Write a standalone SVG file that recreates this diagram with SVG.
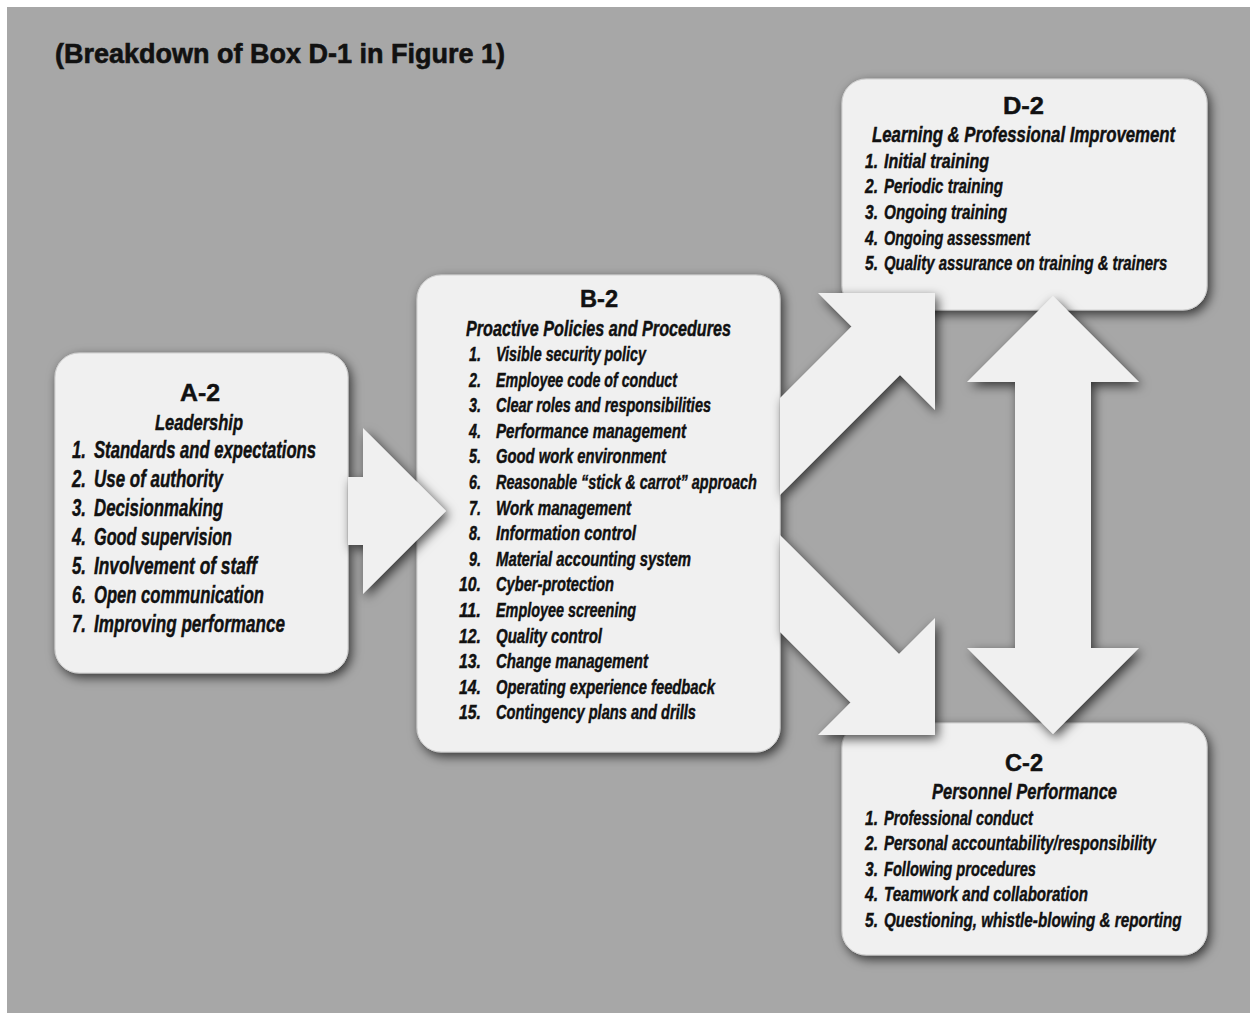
<svg xmlns="http://www.w3.org/2000/svg" width="1250" height="1013" viewBox="0 0 1250 1013">
<defs>
<filter id="sh" x="-20%" y="-20%" width="140%" height="140%">
<feGaussianBlur in="SourceAlpha" stdDeviation="5.5"/>
<feOffset dx="3" dy="4" result="b"/>
<feFlood flood-color="#000" flood-opacity="0.68"/>
<feComposite in2="b" operator="in"/>
<feMerge><feMergeNode/><feMergeNode in="SourceGraphic"/></feMerge>
</filter>
<style>
.box{fill:#f0f0f0;stroke:#d0d0d0;stroke-width:1;filter:url(#sh)}
.arr{fill:#f0f0f0;filter:url(#sh)}
text{font-family:"Liberation Sans",Arial,sans-serif;fill:#111;font-weight:bold;stroke:#111;stroke-width:0.45}
.t{font-size:27px;stroke-width:0.6}
.h{font-size:23px}
.s{font-size:21.5px;font-style:italic}
.ia{font-size:23px;font-style:italic}
.ib{font-size:19.5px;font-style:italic}
.id{font-size:20.5px;font-style:italic}
</style>
</defs>
<rect x="0" y="0" width="1250" height="1013" fill="#ffffff"/>
<rect x="7" y="7" width="1243" height="1006" fill="#a7a7a7"/>
<text class="t" x="55" y="63" textLength="450" lengthAdjust="spacingAndGlyphs">(Breakdown of Box D-1 in Figure 1)</text>

<g id="node-A2">
<rect class="box" x="55" y="353" width="293" height="320" rx="24"/>
<text class="h" x="180" y="401" textLength="40" lengthAdjust="spacingAndGlyphs">A-2</text>
<text class="s" x="155" y="430" textLength="88" lengthAdjust="spacingAndGlyphs">Leadership</text>
<text class="ia" x="72" y="458" textLength="14" lengthAdjust="spacingAndGlyphs">1.</text><text class="ia" x="94" y="458" textLength="222" lengthAdjust="spacingAndGlyphs">Standards and expectations</text>
<text class="ia" x="72" y="487" textLength="14" lengthAdjust="spacingAndGlyphs">2.</text><text class="ia" x="94" y="487" textLength="129" lengthAdjust="spacingAndGlyphs">Use of authority</text>
<text class="ia" x="72" y="516" textLength="14" lengthAdjust="spacingAndGlyphs">3.</text><text class="ia" x="94" y="516" textLength="129" lengthAdjust="spacingAndGlyphs">Decisionmaking</text>
<text class="ia" x="72" y="545" textLength="14" lengthAdjust="spacingAndGlyphs">4.</text><text class="ia" x="94" y="545" textLength="138" lengthAdjust="spacingAndGlyphs">Good supervision</text>
<text class="ia" x="72" y="574" textLength="14" lengthAdjust="spacingAndGlyphs">5.</text><text class="ia" x="94" y="574" textLength="163" lengthAdjust="spacingAndGlyphs">Involvement of staff</text>
<text class="ia" x="72" y="603" textLength="14" lengthAdjust="spacingAndGlyphs">6.</text><text class="ia" x="94" y="603" textLength="170" lengthAdjust="spacingAndGlyphs">Open communication</text>
<text class="ia" x="72" y="632" textLength="14" lengthAdjust="spacingAndGlyphs">7.</text><text class="ia" x="94" y="632" textLength="191" lengthAdjust="spacingAndGlyphs">Improving performance</text>
</g>

<g id="node-B2">
<rect class="box" x="417" y="275" width="363" height="477" rx="24"/>
<text class="h" x="580" y="307" textLength="38" lengthAdjust="spacingAndGlyphs">B-2</text>
<text class="s" x="466" y="336" textLength="265" lengthAdjust="spacingAndGlyphs">Proactive Policies and Procedures</text>
<g text-anchor="end">
<text class="ib" x="481" y="361" textLength="12" lengthAdjust="spacingAndGlyphs">1.</text>
<text class="ib" x="481" y="386.6" textLength="12" lengthAdjust="spacingAndGlyphs">2.</text>
<text class="ib" x="481" y="412.2" textLength="12" lengthAdjust="spacingAndGlyphs">3.</text>
<text class="ib" x="481" y="437.8" textLength="12" lengthAdjust="spacingAndGlyphs">4.</text>
<text class="ib" x="481" y="463.4" textLength="12" lengthAdjust="spacingAndGlyphs">5.</text>
<text class="ib" x="481" y="489" textLength="12" lengthAdjust="spacingAndGlyphs">6.</text>
<text class="ib" x="481" y="514.6" textLength="12" lengthAdjust="spacingAndGlyphs">7.</text>
<text class="ib" x="481" y="540.2" textLength="12" lengthAdjust="spacingAndGlyphs">8.</text>
<text class="ib" x="481" y="565.8" textLength="12" lengthAdjust="spacingAndGlyphs">9.</text>
<text class="ib" x="481" y="591.4" textLength="22" lengthAdjust="spacingAndGlyphs">10.</text>
<text class="ib" x="481" y="617" textLength="22" lengthAdjust="spacingAndGlyphs">11.</text>
<text class="ib" x="481" y="642.6" textLength="22" lengthAdjust="spacingAndGlyphs">12.</text>
<text class="ib" x="481" y="668.2" textLength="22" lengthAdjust="spacingAndGlyphs">13.</text>
<text class="ib" x="481" y="693.8" textLength="22" lengthAdjust="spacingAndGlyphs">14.</text>
<text class="ib" x="481" y="719.4" textLength="22" lengthAdjust="spacingAndGlyphs">15.</text>
</g>
<text class="ib" x="496" y="361" textLength="150" lengthAdjust="spacingAndGlyphs">Visible security policy</text>
<text class="ib" x="496" y="386.6" textLength="181" lengthAdjust="spacingAndGlyphs">Employee code of conduct</text>
<text class="ib" x="496" y="412.2" textLength="215" lengthAdjust="spacingAndGlyphs">Clear roles and responsibilities</text>
<text class="ib" x="496" y="437.8" textLength="190" lengthAdjust="spacingAndGlyphs">Performance management</text>
<text class="ib" x="496" y="463.4" textLength="170" lengthAdjust="spacingAndGlyphs">Good work environment</text>
<text class="ib" transform="translate(496,489) scale(0.8,1)" x="0" y="0" textLength="326" lengthAdjust="spacingAndGlyphs">Reasonable “stick &amp; carrot” approach</text>
<text class="ib" x="496" y="514.6" textLength="135" lengthAdjust="spacingAndGlyphs">Work management</text>
<text class="ib" x="496" y="540.2" textLength="140" lengthAdjust="spacingAndGlyphs">Information control</text>
<text class="ib" x="496" y="565.8" textLength="195" lengthAdjust="spacingAndGlyphs">Material accounting system</text>
<text class="ib" x="496" y="591.4" textLength="118" lengthAdjust="spacingAndGlyphs">Cyber-protection</text>
<text class="ib" x="496" y="617" textLength="140" lengthAdjust="spacingAndGlyphs">Employee screening</text>
<text class="ib" x="496" y="642.6" textLength="106" lengthAdjust="spacingAndGlyphs">Quality control</text>
<text class="ib" x="496" y="668.2" textLength="152" lengthAdjust="spacingAndGlyphs">Change management</text>
<text class="ib" x="496" y="693.8" textLength="219" lengthAdjust="spacingAndGlyphs">Operating experience feedback</text>
<text class="ib" x="496" y="719.4" textLength="200" lengthAdjust="spacingAndGlyphs">Contingency plans and drills</text>
</g>

<g id="node-D2">
<rect class="box" x="842" y="79" width="365" height="231" rx="24"/>
<text class="h" x="1003" y="114" textLength="41" lengthAdjust="spacingAndGlyphs">D-2</text>
<text class="s" transform="translate(872,142) scale(0.8,1)" x="0" y="0" textLength="379" lengthAdjust="spacingAndGlyphs">Learning &amp; Professional Improvement</text>
<text class="id" x="865" y="168" textLength="13" lengthAdjust="spacingAndGlyphs">1.</text><text class="id" x="884" y="168" textLength="105" lengthAdjust="spacingAndGlyphs">Initial training</text>
<text class="id" x="865" y="193" textLength="13" lengthAdjust="spacingAndGlyphs">2.</text><text class="id" x="884" y="193" textLength="119" lengthAdjust="spacingAndGlyphs">Periodic training</text>
<text class="id" x="865" y="219" textLength="13" lengthAdjust="spacingAndGlyphs">3.</text><text class="id" x="884" y="219" textLength="123" lengthAdjust="spacingAndGlyphs">Ongoing training</text>
<text class="id" x="865" y="245" textLength="13" lengthAdjust="spacingAndGlyphs">4.</text><text class="id" x="884" y="245" textLength="146" lengthAdjust="spacingAndGlyphs">Ongoing assessment</text>
<text class="id" x="865" y="270" textLength="13" lengthAdjust="spacingAndGlyphs">5.</text><text class="id" transform="translate(884,270) scale(0.8,1)" x="0" y="0" textLength="354" lengthAdjust="spacingAndGlyphs">Quality assurance on training &amp; trainers</text>
</g>

<g id="node-C2">
<rect class="box" x="842" y="723" width="365" height="232" rx="24"/>
<text class="h" x="1005" y="771" textLength="38" lengthAdjust="spacingAndGlyphs">C-2</text>
<text class="s" x="932" y="799" textLength="185" lengthAdjust="spacingAndGlyphs">Personnel Performance</text>
<text class="id" x="865" y="825" textLength="13" lengthAdjust="spacingAndGlyphs">1.</text><text class="id" x="884" y="825" textLength="149" lengthAdjust="spacingAndGlyphs">Professional conduct</text>
<text class="id" x="865" y="850" textLength="13" lengthAdjust="spacingAndGlyphs">2.</text><text class="id" transform="translate(884,850) scale(0.8,1)" x="0" y="0" textLength="340" lengthAdjust="spacingAndGlyphs">Personal accountability/responsibility</text>
<text class="id" x="865" y="876" textLength="13" lengthAdjust="spacingAndGlyphs">3.</text><text class="id" x="884" y="876" textLength="152" lengthAdjust="spacingAndGlyphs">Following procedures</text>
<text class="id" x="865" y="901" textLength="13" lengthAdjust="spacingAndGlyphs">4.</text><text class="id" x="884" y="901" textLength="204" lengthAdjust="spacingAndGlyphs">Teamwork and collaboration</text>
<text class="id" x="865" y="927" textLength="13" lengthAdjust="spacingAndGlyphs">5.</text><text class="id" transform="translate(884,927) scale(0.8,1)" x="0" y="0" textLength="372" lengthAdjust="spacingAndGlyphs">Questioning, whistle-blowing &amp; reporting</text>
</g>

<g id="connectors">
<polygon id="arrow-A2-B2" class="arr" points="348,477 363,477 363,428 446,511 363,594 363,545 348,545"/>
<polygon id="arrow-B2-D2" class="arr" points="780,398 851.5,326.5 818,293 935,293 935,410 900,375 780,495"/>
<polygon id="arrow-B2-C2" class="arr" points="780,535 899,654 935,618 935,735 818,735 850.5,702.5 780,632"/>
<polygon id="arrow-D2-C2" class="arr" points="1053,296 1139,382 1091,382 1091,648 1139,648 1053,734 967,648 1015,648 1015,382 967,382"/>
</g>
</svg>
